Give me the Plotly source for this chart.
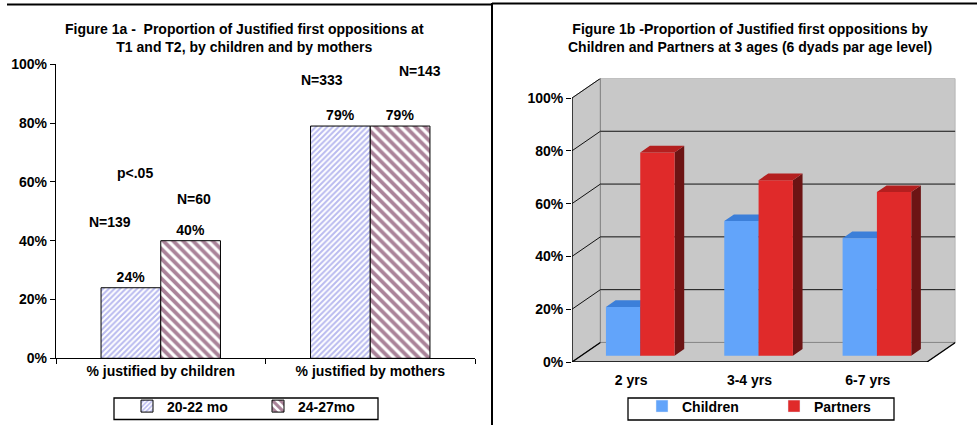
import plotly.graph_objects as go

# ---- figure 1a data
groups_a = ["% justified by children", "% justified by mothers"]
series_a = ["20-22 mo", "24-27mo"]
pct_t1 = [24, 79]
pct_t2 = [40, 79]
n_t1 = [139, 333]
n_t2 = [60, 143]
signif = "p<.05"

# ---- figure 1b data
ages = ["2 yrs", "3-4 yrs", "6-7 yrs"]
series_b = ["Children", "Partners"]
pct_children = [18.5, 51, 44.5]
pct_partners = [77, 66.5, 62]

pct_ticks = [0, 20, 40, 60, 80, 100]
pct_labels = ["0%", "20%", "40%", "60%", "80%", "100%"]

FONT = "Liberation Sans, Arial, sans-serif"
W, H = 977, 425

# fake 3d depth for fig 1b (axis units)
DX, DY = 0.24, 7.4
F0, F1 = 0.32, 0.66
BAR_W = 0.29
X_LO, X_HI = -0.5, len(ages) - 0.5

WALL = "#c8c8c8"
WALL_EDGE = "#8a8a8a"

fig = go.Figure()

# ---------------- figure 1a: hatched bars
fig.add_trace(go.Bar(
    x=groups_a, y=pct_t1, name=series_a[0], legend="legend",
    marker=dict(color="white", line=dict(color="black", width=1),
                pattern=dict(shape="/", fgcolor="#7476e0", bgcolor="white", size=4, solidity=0.5)),
    text=[f"{v}%" for v in pct_t1], textposition="outside", cliponaxis=False,
    textfont=dict(size=14, color="black"), hoverinfo="skip"))
fig.add_trace(go.Bar(
    x=groups_a, y=pct_t2, name=series_a[1], legend="legend",
    marker=dict(color="white", line=dict(color="black", width=1),
                pattern=dict(shape="\\", fgcolor="#560834", bgcolor="white", size=7, solidity=0.55)),
    text=[f"{v}%" for v in pct_t2], textposition="outside", cliponaxis=False,
    textfont=dict(size=14, color="black"), hoverinfo="skip"))


# ---------------- figure 1b: pseudo 3d bars
def poly_trace(polys, fill, line=None, width=0):
    xs, ys = [], []
    for p in polys:
        xs += [pt[0] for pt in p] + [p[0][0], None]
        ys += [pt[1] for pt in p] + [p[0][1], None]
    return go.Scatter(x=xs, y=ys, xaxis="x2", yaxis="y2", mode="lines",
                      fill="toself", fillcolor=fill,
                      line=dict(color=line or fill, width=width),
                      showlegend=False, hoverinfo="skip")


def line_trace(segs, color, width=1):
    xs, ys = [], []
    for (a, b) in segs:
        xs += [a[0], b[0], None]
        ys += [a[1], b[1], None]
    return go.Scatter(x=xs, y=ys, xaxis="x2", yaxis="y2", mode="lines",
                      line=dict(color=color, width=width),
                      showlegend=False, hoverinfo="skip")


side_wall = [(X_LO, 0), (X_LO + DX, DY), (X_LO + DX, 100 + DY), (X_LO, 100)]
floor = [(X_LO, 0), (X_HI, 0), (X_HI + DX, DY), (X_LO + DX, DY)]
back_wall = [(X_LO + DX, DY), (X_HI + DX, DY), (X_HI + DX, 100 + DY), (X_LO + DX, 100 + DY)]
fig.add_trace(poly_trace([back_wall, side_wall, floor], WALL, WALL_EDGE, 1))

grid = [((X_LO + DX, v + DY), (X_HI + DX, v + DY)) for v in pct_ticks[1:-1]]
diag = [((X_LO, v), (X_LO + DX, v + DY)) for v in pct_ticks[1:]]
fig.add_trace(line_trace(grid + diag, "#111111"))
fig.add_trace(line_trace([((X_LO, 0), (X_LO, 100)), ((X_LO, 0), (X_HI, 0)),
                          ((X_LO, 0), (X_LO + DX, DY)), ((X_HI, 0), (X_HI + DX, DY))], "black", 1.3))

ddx, ddy = (F1 - F0) * DX, (F1 - F0) * DY
bar_cols = [("#62a4fa", "#3c7fd9", "#1f4f99"), ("#e02a2a", "#b41f1f", "#6c1414")]
for k, vals in enumerate([pct_children, pct_partners]):
    fronts, tops, sides = [], [], []
    for i, v in enumerate(vals):
        x0 = i + F0 * DX - BAR_W + k * BAR_W
        x1 = x0 + BAR_W
        y0 = F0 * DY
        y1 = y0 + v
        fronts.append([(x0, y0), (x1, y0), (x1, y1), (x0, y1)])
        tops.append([(x0, y1), (x1, y1), (x1 + ddx, y1 + ddy), (x0 + ddx, y1 + ddy)])
        sides.append([(x1, y0), (x1 + ddx, y0 + ddy), (x1 + ddx, y1 + ddy), (x1, y1)])
    front_c, top_c, side_c = bar_cols[k]
    fig.add_trace(poly_trace(sides, side_c))
    fig.add_trace(poly_trace(fronts, front_c))
    fig.add_trace(poly_trace(tops, top_c))

# legend-only entries for 1b
for name, (c, _, _) in zip(series_b, bar_cols):
    fig.add_trace(go.Bar(x=[None], y=[None], name=name, marker_color=c,
                         xaxis="x2", yaxis="y2", legend="legend2"))

# ---------------- annotations
annos = [
    dict(text="Figure 1a -  Proportion of Justified first oppositions at<br>T1 and T2, by children and by mothers",
         x=245 / W, y=1 - 38 / H),
    dict(text="Figure 1b -Proportion of Justified first oppositions by<br>Children and Partners at 3 ages (6 dyads par age level)",
         x=750 / W, y=1 - 38 / H),
]
for a in annos:
    a.update(xref="paper", yref="paper", xanchor="center", yanchor="middle",
             showarrow=False, font=dict(size=14))

# N labels, p-value note
n_pos = [(groups_a[0], -51, 46.5, f"N={n_t1[0]}"), (groups_a[0], 33, 54.2, f"N={n_t2[0]}"),
         (groups_a[1], -48, 94.8, f"N={n_t1[1]}"), (groups_a[1], 50, 97.6, f"N={n_t2[1]}"),
         (groups_a[0], -26, 62.9, signif)]
for g, sh, yv, txt in n_pos:
    annos.append(dict(text=txt, x=g, y=yv, xref="x", yref="y", xshift=sh,
                      showarrow=False, font=dict(size=14)))


def px_rect(x0, y0, x1, y1):
    return dict(type="rect", xref="paper", yref="paper", x0=x0 / W, x1=x1 / W,
                y0=1 - y1 / H, y1=1 - y0 / H, line=dict(color="black", width=1.3))


# frame lines + legend boxes
shapes = [
    dict(type="line", xref="paper", yref="paper", x0=7 / W, x1=492 / W, y0=1 - 4.5 / H, y1=1 - 4.5 / H,
         line=dict(color="black", width=2)),
    dict(type="line", xref="paper", yref="paper", x0=492 / W, x1=1, y0=1 - 3.5 / H, y1=1 - 3.5 / H,
         line=dict(color="black", width=2)),
    dict(type="line", xref="paper", yref="paper", x0=492 / W, x1=492 / W, y0=0, y1=1 - 3 / H,
         line=dict(color="black", width=2)),
    px_rect(114, 398, 378, 419.5),
    px_rect(628, 398, 894, 420),
]

px_per_pct = 2.64
y2_top = 362 - (100 + DY) * px_per_pct
x2_right = 572 + (X_HI + DX - X_LO) * 118.33

axis_common = dict(showgrid=False, zeroline=False, tickcolor="black", tickfont=dict(size=14, color="black"))

fig.update_layout(
    width=W, height=H, margin=dict(l=0, r=0, t=0, b=0, autoexpand=False),
    paper_bgcolor="white", plot_bgcolor="white",
    font=dict(family=FONT, size=14, color="black", weight="bold"),
    barmode="group", bargap=0.43, bargroupgap=0,
    xaxis=dict(domain=[56 / W, 475 / W], anchor="y", type="category", showline=True,
               linecolor="black", linewidth=1.3, ticks="outside", tickson="boundaries",
               ticklen=5, **axis_common),
    yaxis=dict(domain=[1 - 358.3 / H, 1 - 64.3 / H], anchor="x", range=[0, 100],
               tickvals=pct_ticks, ticktext=pct_labels, showline=True, linecolor="black",
               linewidth=1.3, ticks="outside", ticklen=5, **axis_common),
    xaxis2=dict(domain=[572 / W, x2_right / W], anchor="y2", range=[X_LO, X_HI + DX],
                tickvals=list(range(len(ages))), ticktext=ages, ticks="", showline=False,
                ticklabelstandoff=8, **axis_common),
    xaxis3=dict(domain=[572 / W, x2_right / W], anchor="y2", overlaying="x2",
                range=[X_LO, X_HI + DX], tickvals=[i - 0.5 for i in range(len(ages) + 1)],
                ticks="outside", ticklen=5, showticklabels=False, showline=False, **axis_common),
    yaxis2=dict(domain=[1 - 362 / H, 1 - y2_top / H], anchor="x2", range=[0, 100 + DY],
                tickvals=pct_ticks, ticktext=pct_labels, ticks="outside", ticklen=5,
                showline=False, **axis_common),
    legend=dict(orientation="h", x=258 / W, xanchor="center", y=1 - 406.5 / H, yanchor="middle",
                borderwidth=0, bgcolor="rgba(0,0,0,0)", font=dict(size=14), entrywidth=86,
                itemwidth=30),
    legend2=dict(orientation="h", x=774 / W, xanchor="center", y=1 - 406.5 / H, yanchor="middle",
                 borderwidth=0, bgcolor="rgba(0,0,0,0)", font=dict(size=14), entrywidth=87,
                 itemwidth=30),
    annotations=annos, shapes=shapes, showlegend=True,
)

# page body has a default 8px margin; drop it so the figure sits at 0,0
fig.write_html("out.html", config={"displayModeBar": False},
               post_script="document.body.style.margin='0px';")
